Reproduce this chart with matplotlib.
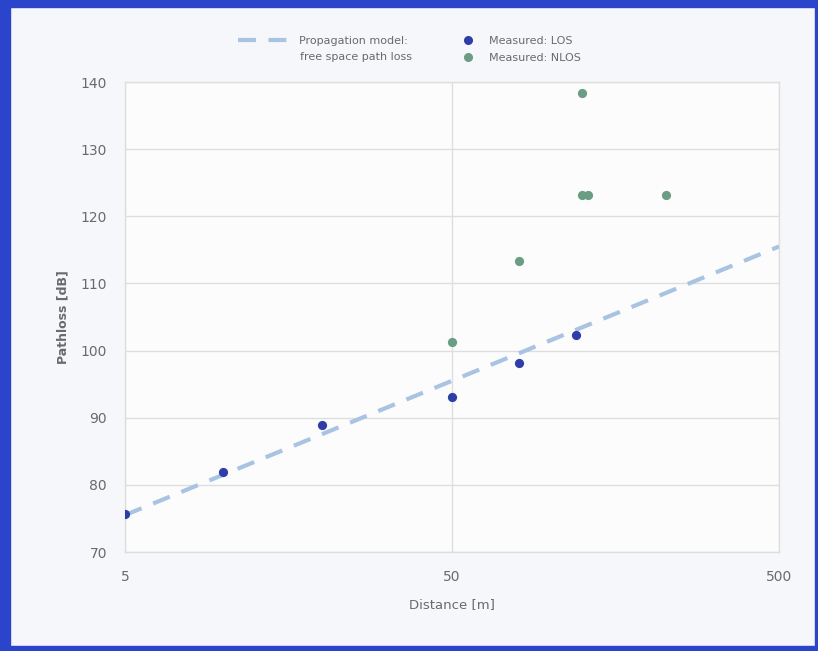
import matplotlib
matplotlib.use("Agg")
import matplotlib.pyplot as plt
from matplotlib.lines import Line2D
from matplotlib.patches import Rectangle

# ---- data ----
model_distance = [5, 500]
model_pathloss = [75.5, 115.5]

los_distance = [5, 10, 20, 50, 80, 120]
los_pathloss = [75.7, 81.9, 88.9, 93.1, 98.1, 102.3]

nlos_distance = [50, 80, 125, 125, 130, 225]
nlos_pathloss = [101.3, 113.3, 138.3, 123.2, 123.2, 123.2]

x_ticks = [5, 50, 500]
x_tick_labels = ["5", "50", "500"]
y_ticks = [70, 80, 90, 100, 110, 120, 130, 140]

W, H = 818, 651
fig = plt.figure(figsize=(W / 100, H / 100), dpi=100)
fig.patch.set_facecolor("#f6f7fa")

# blue border
border = "#2b44cc"
fig.add_artist(Rectangle((0, 0), 10 / W, 1, transform=fig.transFigure, color=border, zorder=10))
fig.add_artist(Rectangle((0, 1 - 7 / H), 1, 7 / H, transform=fig.transFigure, color=border, zorder=10))
fig.add_artist(Rectangle((0, 0), 1, 5 / H, transform=fig.transFigure, color=border, zorder=10))
fig.add_artist(Rectangle((1 - 3 / W, 0), 3 / W, 1, transform=fig.transFigure, color=border, zorder=10))

left, right, top, bottom = 125, 779, 82, 552
ax = fig.add_axes([left / W, (H - bottom) / H, (right - left) / W, (bottom - top) / H])
ax.set_facecolor("#fcfcfd")

ax.set_xscale("log")
ax.set_xlim(5, 500)
ax.set_ylim(70, 140)

line_color = "#a9c3e3"
los_color = "#2f3ea6"
nlos_color = "#6b9c84"

ax.plot(model_distance, model_pathloss, color=line_color, lw=3.0,
        dashes=(4.3, 3.0), solid_capstyle="butt", dash_capstyle="butt", zorder=3)
ax.scatter(los_distance, los_pathloss, s=44, color=los_color, zorder=4, linewidths=0)
ax.scatter(nlos_distance, nlos_pathloss, s=44, color=nlos_color, zorder=4, linewidths=0)

ax.set_xticks(x_ticks)
ax.set_xticklabels(x_tick_labels)
ax.xaxis.set_minor_locator(matplotlib.ticker.NullLocator())
ax.set_yticks(y_ticks)

grid_c = "#dedede"
ax.grid(True, which="major", color=grid_c, lw=1.0)
ax.set_axisbelow(True)
for s in ax.spines.values():
    s.set_color(grid_c)
    s.set_linewidth(1.0)

text_c = "#6a6a6a"
ax.tick_params(axis="both", length=0, labelsize=10, colors=text_c)
ax.tick_params(axis="y", pad=13)
ax.tick_params(axis="x", pad=13)
ax.set_xlabel("Distance [m]", fontsize=9.5, color=text_c, labelpad=10)
ax.set_ylabel("Pathloss [dB]", fontsize=9, color=text_c, labelpad=8, fontweight="bold")

# legends
h1 = [Line2D([0], [0], color=line_color, lw=3.0, dashes=(4.3, 3.0))]
leg1 = fig.legend(h1, ["Propagation model:"], loc="upper left",
                  bbox_to_anchor=(238 / W, 1 - 36 / H), frameon=False, fontsize=8,
                  handlelength=5.2, handletextpad=0.3, borderpad=0, borderaxespad=0,
                  labelcolor=text_c)
fig.text(300 / W, 1 - 57 / H, "free space path loss", fontsize=8, color=text_c,
         ha="left", va="center")
h2 = [Line2D([0], [0], marker="o", ls="none", color=los_color, markersize=5.5),
      Line2D([0], [0], marker="o", ls="none", color=nlos_color, markersize=5.5)]
leg2 = fig.legend(h2, ["Measured: LOS", "Measured: NLOS"], loc="upper left",
                  bbox_to_anchor=(457 / W, 1 - 36 / H), frameon=False, fontsize=8,
                  handlelength=2.0, handletextpad=0.9, borderpad=0, borderaxespad=0,
                  labelspacing=0.65, labelcolor=text_c)

fig.savefig("out.png", dpi=100, facecolor=fig.get_facecolor())
